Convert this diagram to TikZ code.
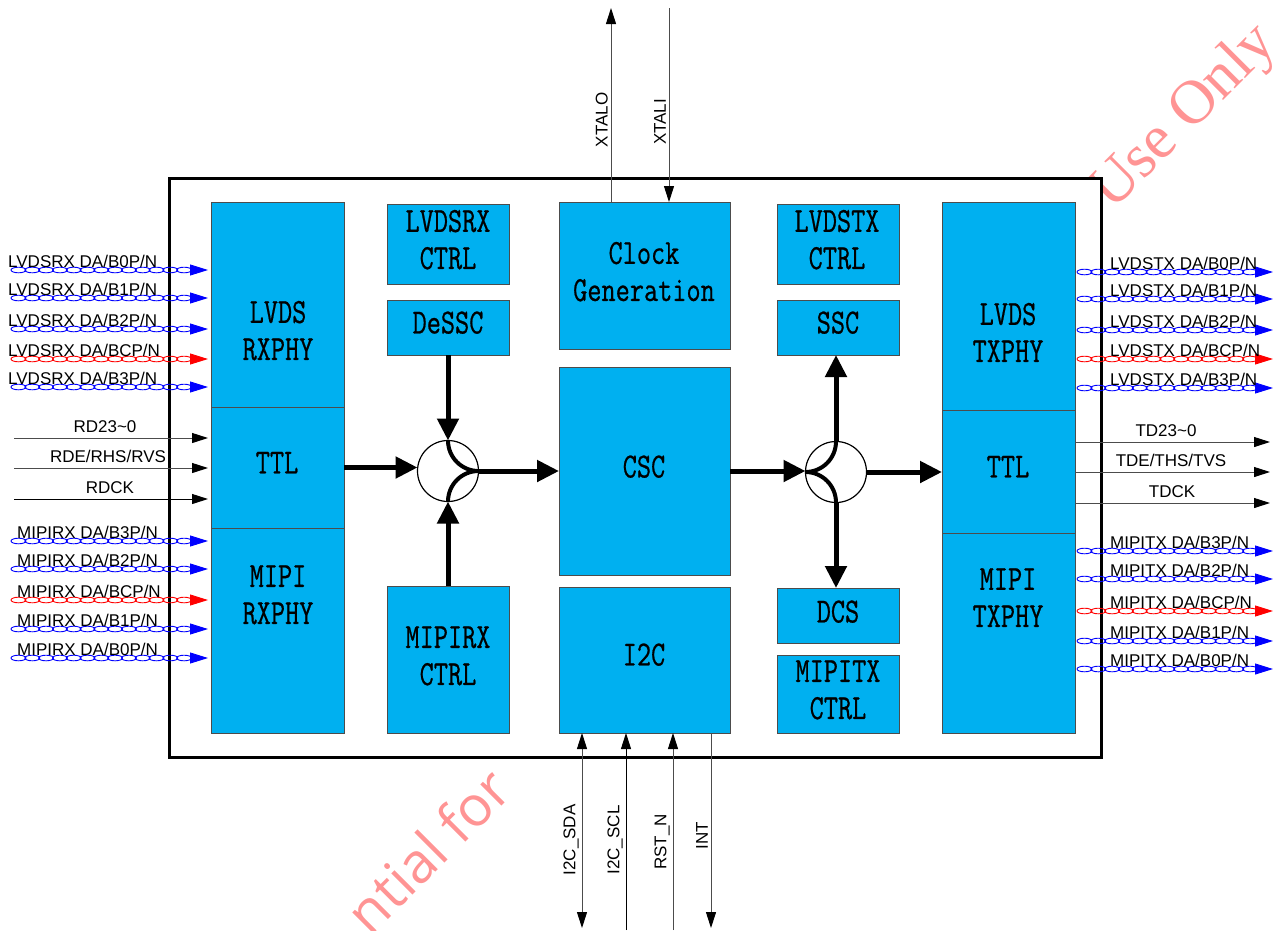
\documentclass[tikz,border=0pt]{standalone}
\usepackage{fontspec}
\usepackage{graphicx}
\usetikzlibrary{arrows.meta}
\newfontfamily\labfont{Liberation Sans}
\newfontfamily\wmserif{Liberation Serif}
\newfontfamily\wmsans{Open Sans}
\newfontfamily\blkfont[FakeBold=0.7]{Latin Modern Mono}
\definecolor{cyanblk}{HTML}{00B0F0}
\definecolor{chainblue}{HTML}{0000FF}
\definecolor{chainred}{HTML}{FF0000}
\newcommand\btx[1]{\scalebox{1}[1.28]{\begin{tabular}{@{}c@{}}#1\end{tabular}}}
\newcommand\dchain[4]{%
  \foreach \k in {0,...,12}{\draw[#4,line width=0.9pt] ({#2+7.5+\k*13.8},#1) ellipse [x radius=7.5,y radius=2.8];}
  \draw[#4,line width=0.9pt,-{Triangle[length=18pt,width=11pt]}] ({#3-18},#1) -- (#3,#1);
}
\tikzset{
  blk/.style={draw=black!70,line width=1pt,fill=cyanblk,inner sep=0pt,outer sep=0pt},
  btext/.style={inner sep=0pt,font={\blkfont\fontsize{27.5}{29}\selectfont}},
  lab/.style={inner sep=0pt,font={\labfont\fontsize{17}{20}\selectfont}},
  sig/.style={draw=black!70,line width=1pt,-{Triangle[length=16pt,width=10pt,color=black]}},
  sigk/.style={draw=black,line width=1pt,-{Triangle[length=16pt,width=10pt,color=black]}},
  sigboth/.style={draw=black!70,line width=1pt,{Triangle[length=16pt,width=10pt,color=black]}-{Triangle[length=16pt,width=10pt,color=black]}},
  fat/.style={draw=black,line width=5pt,-{Triangle[length=22pt,width=21pt]}},
  mux/.style={circle,draw=black,line width=1.2pt,minimum size=61pt,inner sep=0pt,outer sep=0pt,fill=white},
  wm/.style={inner sep=0pt,text=red,text opacity=0.42},
}
\begin{document}
\begin{tikzpicture}[x=1pt,y=-1pt]
\useasboundingbox (0,0) rectangle (1282,930);
\fill[white] (0,0) rectangle (1282,930);
% watermark
\begin{scope}
\clip (0,0) rectangle (1282,930);
\node[wm,rotate=45,font={\wmserif\fontsize{62}{70}\selectfont}] (wm1) at (1185,118) {Use Only};
\node[wm,rotate=45,font={\wmsans\fontsize{56}{60}\selectfont}] (wm2) at (428,850) {ntial for};
\end{scope}
% main chip box
\node[draw=black,line width=3pt,fill=white,minimum width=932pt,minimum height=579pt,inner sep=0pt] (chip) at (635,467.5) {};
% blocks
\node[blk,minimum width=133pt,minimum height=205pt] (lrx) at (277.5,304.5) {};
\node[blk,minimum width=133pt,minimum height=121pt] (ttl1) at (277.5,467.5) {};
\node[blk,minimum width=133pt,minimum height=205pt] (mrx) at (277.5,630.5) {};
\node[blk,minimum width=122pt,minimum height=80pt] (lrxc) at (448,244) {};
\node[blk,minimum width=122pt,minimum height=55pt] (dessc) at (448,327.5) {};
\node[blk,minimum width=122pt,minimum height=147pt] (mrxc) at (448,659.5) {};
\node[blk,minimum width=171pt,minimum height=147pt] (clk) at (644.5,275.5) {};
\node[blk,minimum width=171pt,minimum height=208pt] (csc) at (644.5,471) {};
\node[blk,minimum width=171pt,minimum height=146pt] (i2c) at (644.5,660) {};
\node[blk,minimum width=122pt,minimum height=80pt] (ltxc) at (838,244) {};
\node[blk,minimum width=122pt,minimum height=55pt] (ssc) at (838,327.5) {};
\node[blk,minimum width=122pt,minimum height=55pt] (dcs) at (838,615.5) {};
\node[blk,minimum width=122pt,minimum height=78pt] (mtxc) at (838,694) {};
\node[blk,minimum width=133pt,minimum height=208pt] (ltx) at (1008.5,306) {};
\node[blk,minimum width=133pt,minimum height=123pt] (ttl2) at (1008.5,471.5) {};
\node[blk,minimum width=133pt,minimum height=200pt] (mtx) at (1008.5,633) {};
% block texts
\node[btext] (lrx-t) at (278,334) {\btx{LVDS\\RXPHY}};
\node[btext] (ttl1-t) at (277,466) {\btx{TTL}};
\node[btext] (mrx-t) at (278,598) {\btx{MIPI\\RXPHY}};
\node[btext] (lrxc-t) at (448,243) {\btx{LVDSRX\\CTRL}};
\node[btext] (dessc-t) at (448,326) {\btx{DeSSC}};
\node[btext] (mrxc-t) at (448,659) {\btx{MIPIRX\\CTRL}};
\node[btext] (clk-t) at (644,275) {\btx{Clock\\Generation}};
\node[btext] (csc-t) at (644,470) {\btx{CSC}};
\node[btext] (i2c-t) at (644,658) {\btx{I2C}};
\node[btext] (ltxc-t) at (837,243) {\btx{LVDSTX\\CTRL}};
\node[btext] (ssc-t) at (838,326) {\btx{SSC}};
\node[btext] (dcs-t) at (838,615) {\btx{DCS}};
\node[btext] (mtxc-t) at (838,693) {\btx{MIPITX\\CTRL}};
\node[btext] (ltx-t) at (1008,336) {\btx{LVDS\\TXPHY}};
\node[btext] (ttl2-t) at (1008,470) {\btx{TTL}};
\node[btext] (mtx-t) at (1008,601) {\btx{MIPI\\TXPHY}};
% mux circles
\node[mux] (c1) at (448,471) {};
\node[mux] (c2) at (836,472) {};
\draw[line width=4pt] (c1.north) arc[start angle=180,end angle=90,radius=30.5];
\draw[line width=4pt] (c1.south) arc[start angle=180,end angle=270,radius=30.5];
\draw[line width=4pt] (c2.west) arc[start angle=90,end angle=0,radius=30.5];
\draw[line width=4pt] (c2.west) arc[start angle=270,end angle=360,radius=30.5];
% thick data paths
\draw[fat] (ttl1.east) -- (ttl1.east -| c1.west);
\draw[fat] (dessc.south) -- (c1.north);
\draw[fat] (mrxc.north) -- (c1.south);
\draw[fat] (c1.east) -- (c1.east -| csc.west);
\draw[fat] (csc.east) -- (csc.east -| c2.west);
\draw[fat] (c2.east) -- (c2.east -| ttl2.west);
\draw[fat] (c2.north) -- (c2.north |- ssc.south);
\draw[fat] (c2.south) -- (c2.south |- dcs.north);
% left LVDS RX inputs
\dchain{270}{11}{208}{chainblue}
\dchain{298}{11}{208}{chainblue}
\dchain{329}{11}{208}{chainblue}
\dchain{359}{11}{208}{chainred}
\dchain{387}{11}{208}{chainblue}
\node[lab,anchor=base west] (l1) at (8,267) {LVDSRX DA/B0P/N};
\node[lab,anchor=base west] (l2) at (8,295) {LVDSRX DA/B1P/N};
\node[lab,anchor=base west] (l3) at (8,326) {LVDSRX DA/B2P/N};
\node[lab,anchor=base west] (l4) at (8,356) {LVDSRX DA/BCP/N};
\node[lab,anchor=base west] (l5) at (8,384) {LVDSRX DA/B3P/N};
% left TTL inputs
\coordinate (rd1s) at (14,438); \coordinate (rd1e) at (208,438);
\coordinate (rd2s) at (14,468); \coordinate (rd2e) at (208,468);
\coordinate (rd3s) at (14,499); \coordinate (rd3e) at (208,499);
\draw[sig] (rd1s) -- (rd1e);
\draw[sig] (rd2s) -- (rd2e);
\draw[sigk] (rd3s) -- (rd3e);
\node[lab,anchor=base] (rdl1) at (105,432) {RD23\textasciitilde 0};
\node[lab,anchor=base] (rdl2) at (108,462) {RDE/RHS/RVS};
\node[lab,anchor=base] (rdl3) at (110,493) {RDCK};
% left MIPI RX inputs
\dchain{541}{11}{208}{chainblue}
\dchain{569}{11}{208}{chainblue}
\dchain{600}{11}{208}{chainred}
\dchain{629}{11}{208}{chainblue}
\dchain{658}{11}{208}{chainblue}
\node[lab,anchor=base west] (m1) at (17,538) {MIPIRX DA/B3P/N};
\node[lab,anchor=base west] (m2) at (17,566) {MIPIRX DA/B2P/N};
\node[lab,anchor=base west] (m3) at (17,597) {MIPIRX DA/BCP/N};
\node[lab,anchor=base west] (m4) at (17,626) {MIPIRX DA/B1P/N};
\node[lab,anchor=base west] (m5) at (17,655) {MIPIRX DA/B0P/N};
% right LVDS TX outputs
\dchain{272}{1077}{1273}{chainblue}
\dchain{299}{1077}{1273}{chainblue}
\dchain{330}{1077}{1273}{chainblue}
\dchain{359}{1077}{1273}{chainred}
\dchain{388}{1077}{1273}{chainblue}
\node[lab,anchor=base west] (t1) at (1110,269) {LVDSTX DA/B0P/N};
\node[lab,anchor=base west] (t2) at (1110,296) {LVDSTX DA/B1P/N};
\node[lab,anchor=base west] (t3) at (1110,327) {LVDSTX DA/B2P/N};
\node[lab,anchor=base west] (t4) at (1110,356) {LVDSTX DA/BCP/N};
\node[lab,anchor=base west] (t5) at (1110,385) {LVDSTX DA/B3P/N};
% right TTL outputs
\coordinate (td1e) at (1270,442);
\coordinate (td2e) at (1270,472);
\coordinate (td3e) at (1270,503);
\draw[sig] (ttl2.east |- td1e) -- (td1e);
\draw[sig] (ttl2.east |- td2e) -- (td2e);
\draw[sig] (ttl2.east |- td3e) -- (td3e);
\node[lab,anchor=base] (tdl1) at (1166,436) {TD23\textasciitilde 0};
\node[lab,anchor=base] (tdl2) at (1171,466) {TDE/THS/TVS};
\node[lab,anchor=base] (tdl3) at (1172,497) {TDCK};
% right MIPI TX outputs
\dchain{551}{1077}{1273}{chainblue}
\dchain{579}{1077}{1273}{chainblue}
\dchain{611}{1077}{1273}{chainred}
\dchain{641}{1077}{1273}{chainblue}
\dchain{669}{1077}{1273}{chainblue}
\node[lab,anchor=base west] (n1) at (1110,548) {MIPITX DA/B3P/N};
\node[lab,anchor=base west] (n2) at (1110,576) {MIPITX DA/B2P/N};
\node[lab,anchor=base west] (n3) at (1110,608) {MIPITX DA/BCP/N};
\node[lab,anchor=base west] (n4) at (1110,638) {MIPITX DA/B1P/N};
\node[lab,anchor=base west] (n5) at (1110,666) {MIPITX DA/B0P/N};
% crystal pins
\coordinate (xo) at (611,8);
\coordinate (xi) at (669,8);
\draw[sig] (clk.north -| xo) -- (xo);
\draw[sig] (xi) -- (clk.north -| xi);
\node[lab,rotate=90,anchor=south] (xol) at (608,120) {XTALO};
\node[lab,rotate=90,anchor=south] (xil) at (666,122) {XTALI};
% bottom pins
\coordinate (sda) at (582,928);
\coordinate (scl) at (626,930);
\coordinate (rst) at (673,930);
\coordinate (int) at (711,928);
\draw[sigboth] (i2c.south -| sda) -- (sda);
\draw[sigk] (scl) -- (i2c.south -| scl);
\draw[sig] (rst) -- (i2c.south -| rst);
\draw[sig] (i2c.south -| int) -- (int);
\node[lab,rotate=90,anchor=south] (sdal) at (579,840) {I2C\_SDA};
\node[lab,rotate=90,anchor=south] (scll) at (623,840) {I2C\_SCL};
\node[lab,rotate=90,anchor=south] (rstl) at (670,842) {RST\_N};
\node[lab,rotate=90,anchor=south] (intl) at (708,836) {INT};
\end{tikzpicture}
\end{document}
